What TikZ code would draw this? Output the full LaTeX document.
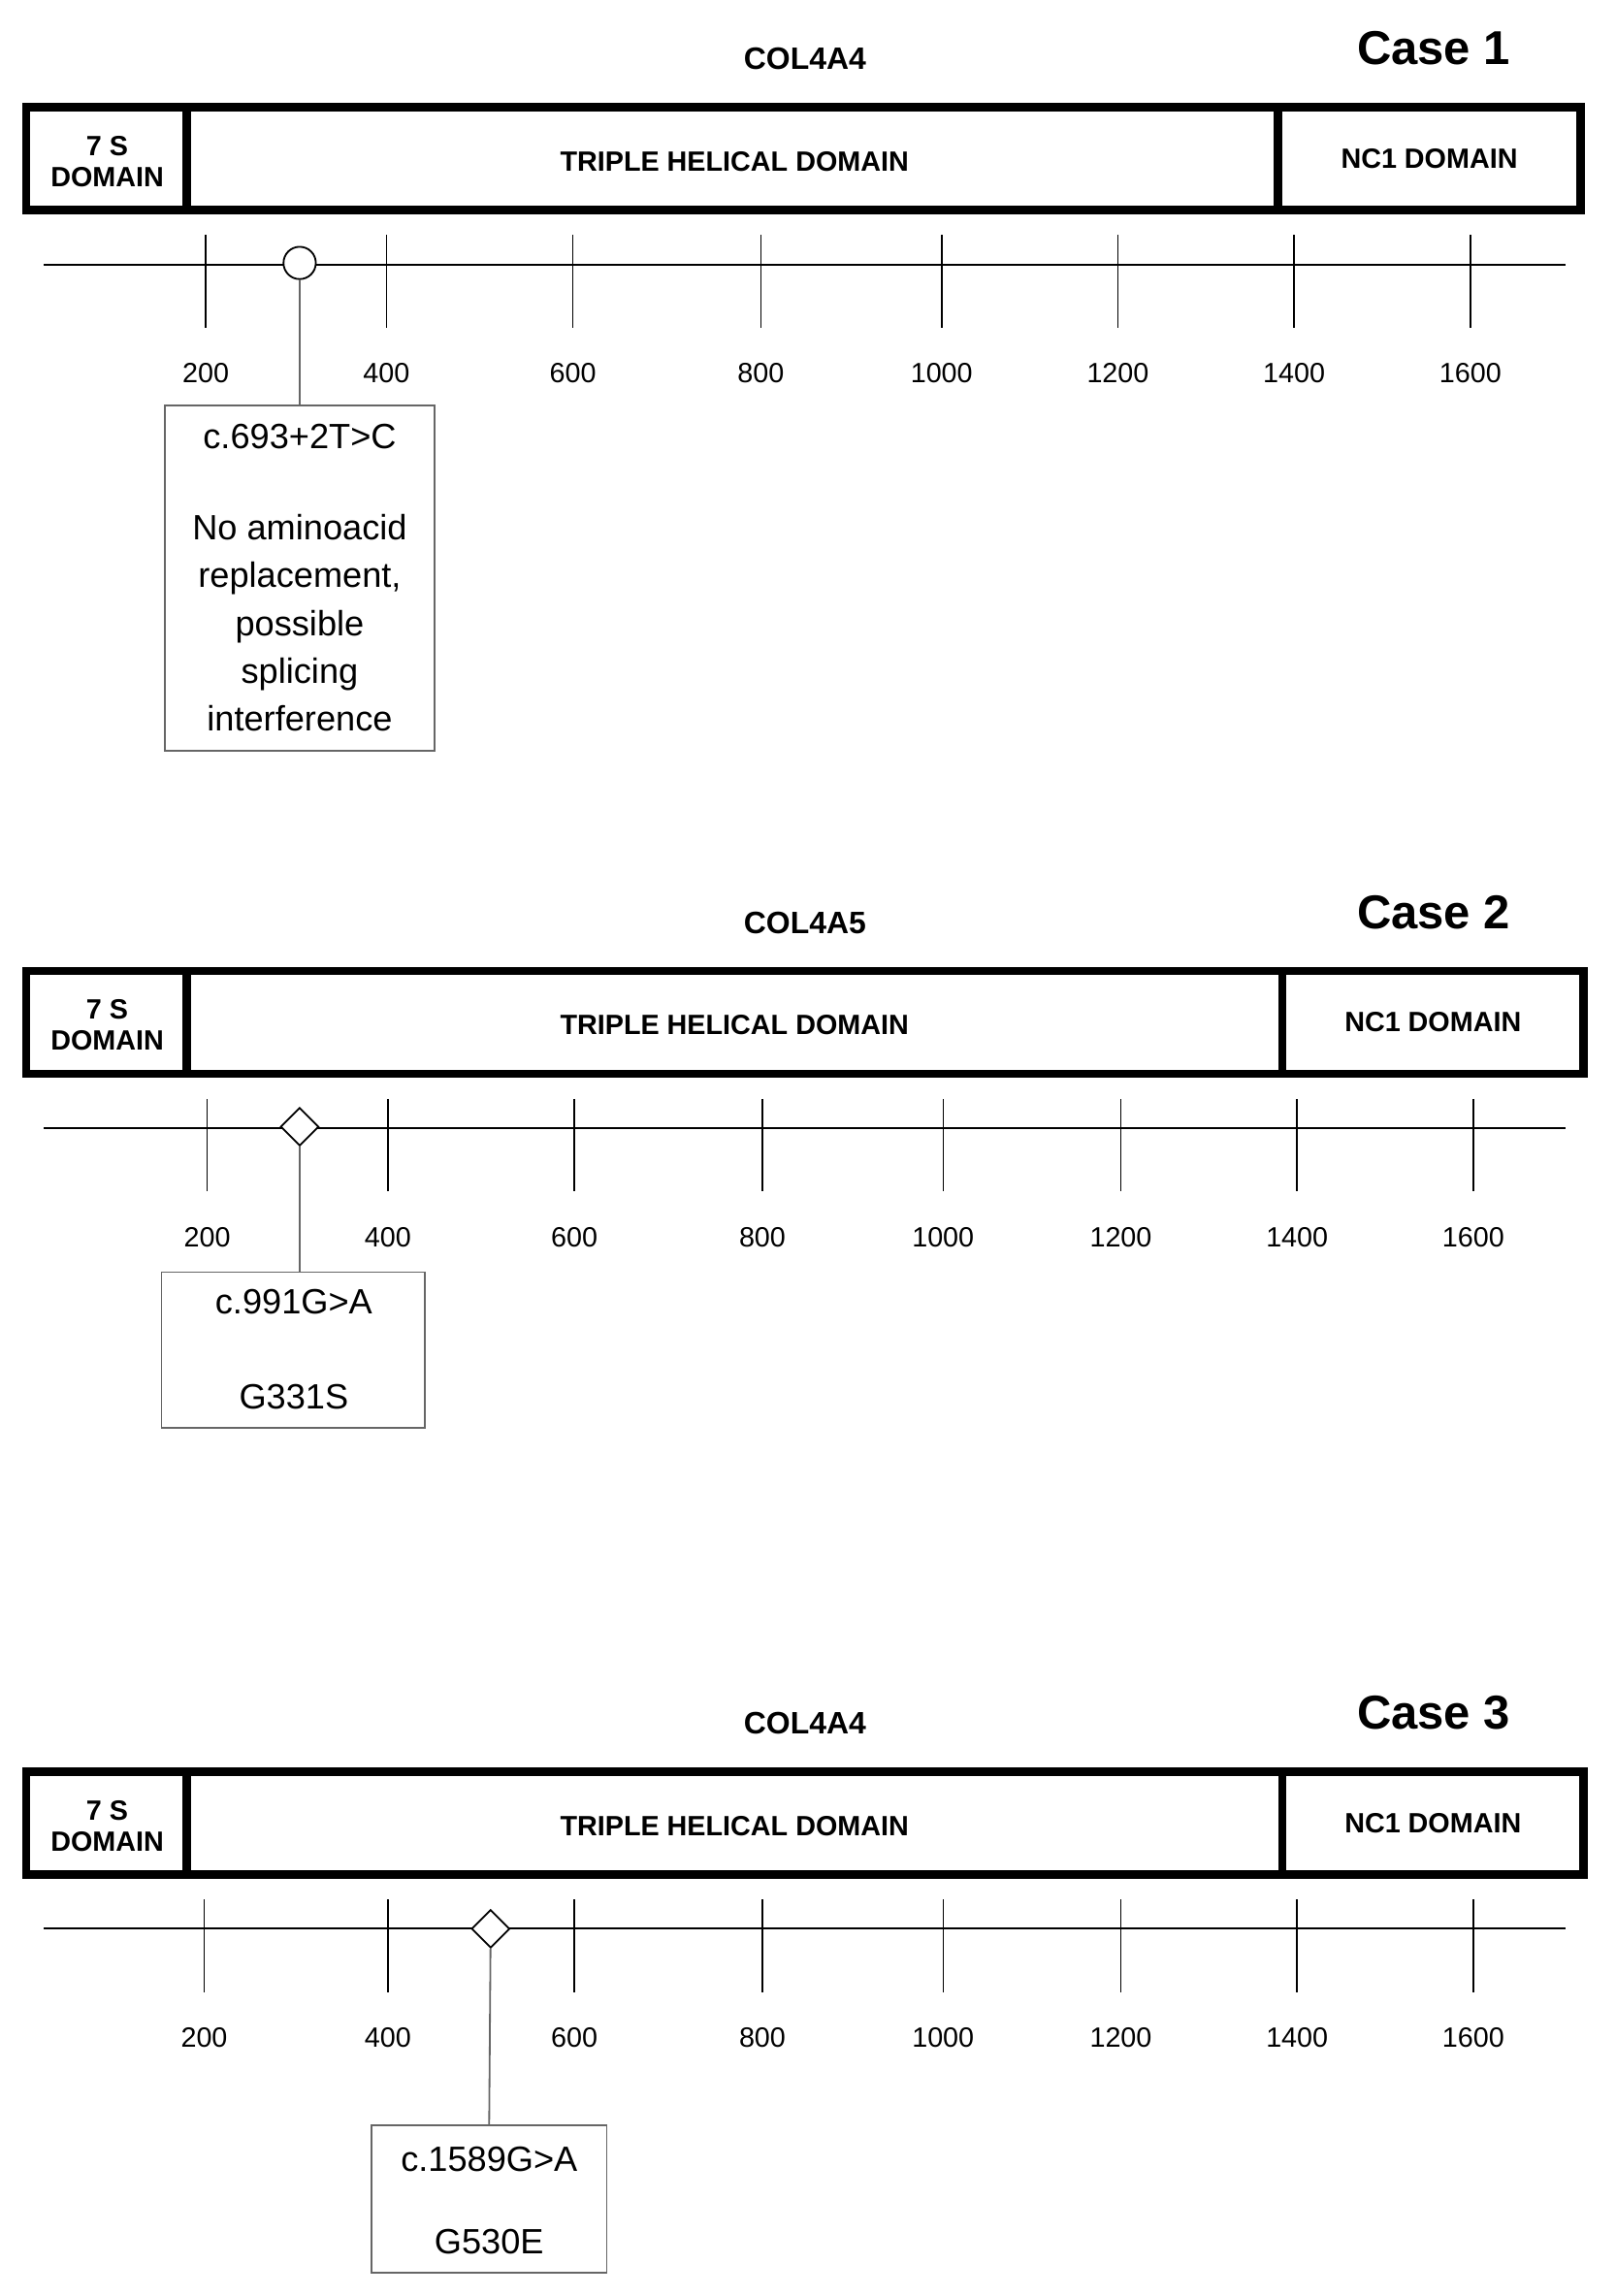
\documentclass[tikz,border=0pt]{standalone}
\usepackage{fontspec}
\setmainfont{Liberation Sans}
\usetikzlibrary{shapes.geometric}
\tikzset{
 dom/.style={draw,line width=1.4mm,inner sep=0},
 dlab/.style={font=\bfseries\fontsize{13.5}{15}\selectfont,align=center},
 tick/.style={line width=0.25mm},
 axis/.style={line width=0.35mm},
 tl/.style={font=\fontsize{13.5}{15}\selectfont},
 mbox/.style={draw=black!60,line width=0.3mm},
 mtxt/.style={font=\fontsize{17}{19}\selectfont,align=center},
 ttl/.style={font=\bfseries\fontsize{15}{17}\selectfont},
 cs/.style={font=\bfseries\fontsize{23}{25}\selectfont},
}
\newcommand\mygene[8]{%
 \begin{scope}[yshift=-#1*0.25mm]
 \node[ttl] (t#3) at (548,40) {#2};
 \node[cs] (c#3) at (976,33) {Case #3};
 \draw[dom] (18,73) rectangle (#5,143);
 \draw[dom] (127,73) -- (127,143);
 \draw[dom] (#4,73) -- (#4,143);
 \node[dlab] (s#3) at (73,110) {7 S\\DOMAIN};
 \node[dlab] (h#3) at (500,110) {TRIPLE HELICAL DOMAIN};
 \node[dlab] (n#3) at ({(#4+#5)/2},108) {NC1 DOMAIN};
 \draw[axis] (30,180) coordinate (a#3) -- (1066,180) coordinate (b#3);
 \foreach \x/\l in {#8} {\draw[tick] (\x,160) -- (\x,223); \node[tl] at (\x,#7) {\l};}
 \end{scope}}
\begin{document}
\begin{tikzpicture}[x=0.25mm,y=-0.25mm]
\useasboundingbox (0,0) rectangle (1100,1563);
\mygene{0}{COL4A4}{1}{870}{1076}{}{254}{140/200,263/400,390/600,518/800,641/1000,761/1200,881/1400,1001/1600}
\mygene{588}{COL4A5}{2}{873}{1078}{}{254}{141/200,264/400,391/600,519/800,642/1000,763/1200,883/1400,1003/1600}
\mygene{1133}{COL4A4}{3}{873}{1078}{}{254}{139/200,264/400,391/600,519/800,642/1000,763/1200,883/1400,1003/1600}
% case 1 mutation
\node[mbox,minimum width=184*0.25mm,minimum height=235*0.25mm] (m1) at (204,393.5) {};
\node[mtxt] (m1a) at (204,297) {c.693+2T>C};
\node[mtxt,font=\fontsize{17}{23.1}\selectfont] (m1b) at (204,424) {No aminoacid\\replacement,\\possible\\splicing\\interference};
\node[circle,draw,fill=white,line width=0.3mm,minimum size=22*0.25mm,inner sep=0] (p1) at (204,179) {};
\draw[line width=0.3mm,black!60] (p1) -- (m1.north);
% case 2
\node[mbox,minimum width=179*0.25mm,minimum height=106*0.25mm] (m2) at (199.5,919) {};
\node[mtxt] (m2a) at (200,886) {c.991G>A};
\node[mtxt] (m2b) at (200,951) {G331S};
\node[diamond,draw,fill=white,line width=0.3mm,minimum size=26*0.25mm,inner sep=0] (p2) at (204,767) {};
\draw[line width=0.3mm,black!60] (p2) -- (p2 |- m2.north);
% case 3
\node[mbox,minimum width=160*0.25mm,minimum height=100*0.25mm] (m3) at (333,1497) {};
\node[mtxt] (m3a) at (333,1470) {c.1589G>A};
\node[mtxt] (m3b) at (333,1526) {G530E};
\node[diamond,draw,fill=white,line width=0.3mm,minimum size=26*0.25mm,inner sep=0] (p3) at (334,1313) {};
\draw[line width=0.3mm,black!60] (p3) -- (m3.north);
\end{tikzpicture}
\end{document}
